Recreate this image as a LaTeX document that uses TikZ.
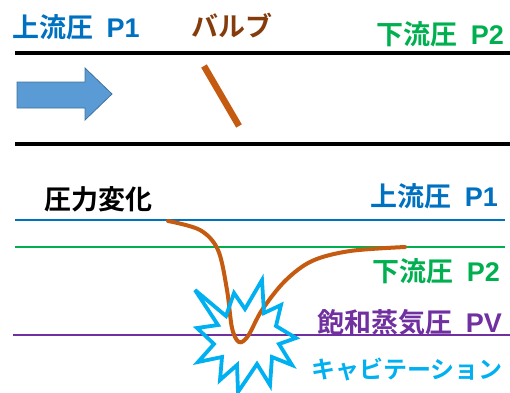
\documentclass[tikz,border=0pt]{standalone}
\usepackage{fontspec}
\setmainfont{Noto Sans CJK JP}[BoldFont={* Bold}]
\newfontfamily\latf{Liberation Sans}
\definecolor{cblue}{HTML}{0070C0}
\definecolor{cgreen}{HTML}{00B050}
\definecolor{cbrown}{HTML}{843C0C}
\definecolor{corange}{HTML}{C55A11}
\definecolor{cpurple}{HTML}{7030A0}
\definecolor{ccyan}{HTML}{00B0F0}
\definecolor{arrowfill}{HTML}{5B9BD5}
\definecolor{arrowedge}{HTML}{41719C}
\newcommand{\lab}[2]{#1\hspace{0.5em}{\latf #2}}
\begin{document}
\begin{tikzpicture}[x=1pt,y=-1pt,
  lbl/.style={inner sep=0pt, font=\fontsize{27}{27}\selectfont\bfseries},
  pipe/.style={line width=4pt, black},
  level/.style={line width=1.3pt}]
\useasboundingbox (0,0) rectangle (510,392);
% top labels
\node[lbl, cblue, anchor=west] (p1top) at (12,27.5) {\lab{上流圧}{P1}};
\node[lbl, cbrown, anchor=west] (valvelbl) at (191,26) {バルブ};
\node[lbl, cgreen, anchor=east] (p2top) at (504,34) {\lab{下流圧}{P2}};
% pipe
\draw[pipe] (15,52.5) -- (510,52.5);
\draw[pipe] (15,144) -- (510,144);
% flow arrow
\draw[fill=arrowfill, draw=arrowedge, line width=0.8pt, line join=miter]
  (17,82) -- (85,82) -- (85,68) -- (112,94) -- (85,120) -- (85,108) -- (17,108) -- cycle;
% valve
\draw[corange, line width=6.5pt] (204,66) -- (239,126);
% lower labels
\node[lbl, black, anchor=west] (chg) at (44,199) {圧力変化};
\node[lbl, cblue, anchor=east] (p1) at (498,196) {\lab{上流圧}{P1}};
\node[lbl, cgreen, anchor=east] (p2) at (500,271) {\lab{下流圧}{P2}};
\node[lbl, cpurple, anchor=east] (pv) at (502,322) {\lab{飽和蒸気圧}{PV}};
\node[lbl, ccyan, anchor=east, font=\fontsize{24}{24}\selectfont\bfseries] (cav) at (503,369) {キャビテーション};
% levels
\draw[level, cblue] (15,220) -- (505,220);
\draw[level, cgreen] (15,247) -- (505,247);
\draw[level, cpurple, line width=2pt] (13,335) -- (510,335);
% pressure curve
\draw[corange, line width=4pt, line cap=round]
  plot[smooth, tension=0.55] coordinates {(168,221) (200,230) (218,250) (227,290) (232,328) (239,342) (248,336) (262,310) (285,281) (312,261) (350,251) (405,247)};
% cavitation burst
\draw[ccyan, line width=3.8pt, line join=miter, miter limit=4]
  (195,290) -- (226,316) -- (234,293) -- (245,309) -- (262,280) -- (264,313)
  -- (281,305) -- (276,326) -- (296,338) -- (279,344) -- (292,365) -- (272,357)
  -- (270,385) -- (257,364) -- (238,392) -- (237,365) -- (220,380) -- (222,357)
  -- (198,362) -- (214,344) -- (197,328) -- (218,325) -- cycle;
\end{tikzpicture}
\end{document}
